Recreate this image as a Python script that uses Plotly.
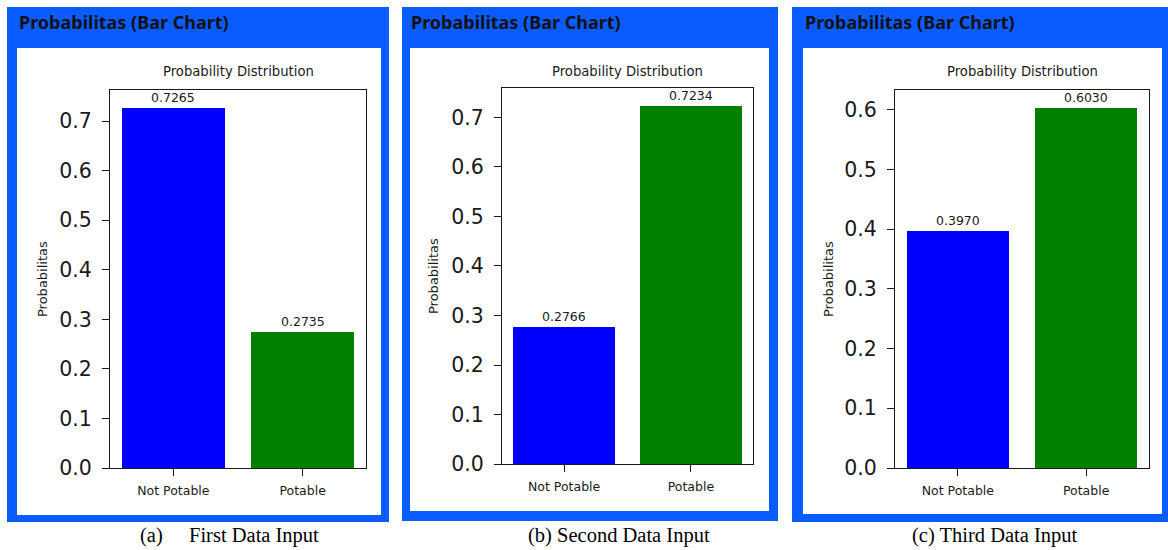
import plotly.graph_objects as go

W, H = 1168, 550
H_DRAW = 538  # vertical extent used for pixel -> paper conversion

# ---- data -------------------------------------------------------------
categories = ["Not Potable", "Potable"]
first_input = [0.7265, 0.2735]
second_input = [0.2766, 0.7234]
third_input = [0.3970, 0.6030]
bar_colors = ["#0000ff", "#008000"]

card_title = "Probabilitas (Bar Chart)"
chart_title = "Probability Distribution"
y_label = "Probabilitas"
caption_tags = ["(a)", "(b)", "(c)"]
caption_texts = ["First Data Input", "Second Data Input", "Third Data Input"]


def fx(x):
    return x / W


def fy(y):
    return 1 - y / H_DRAW


# card geometry in pixels: outer blue frame, inner white area, plot box
cards = [
    dict(outer=(7, 7, 389, 522), inner=(17, 48, 381, 515),
         plot=(110, 90, 366, 468), title_x=17, ylab_x=42),
    dict(outer=(402, 7, 778, 521), inner=(410, 48, 769, 511),
         plot=(502, 88, 753, 464), title_x=409, ylab_x=433),
    dict(outer=(792, 7, 1168, 522), inner=(803, 48, 1162, 514),
         plot=(895, 90, 1149, 468), title_x=803, ylab_x=828),
]
series = [first_input, second_input, third_input]

BLUE = "#0b5cff"
INK = "#1a1a1a"
FONT = "DejaVu Sans"

fig = go.Figure()
shapes = []
annotations = []

for i, (card, vals) in enumerate(zip(cards, series)):
    n = "" if i == 0 else str(i + 1)
    xa, ya = "x" + n, "y" + n

    ox0, oy0, ox1, oy1 = card["outer"]
    ix0, iy0, ix1, iy1 = card["inner"]
    shapes.append(dict(type="rect", xref="paper", yref="paper", layer="below",
                       x0=fx(ox0), x1=fx(ox1), y0=fy(oy1), y1=fy(oy0),
                       fillcolor=BLUE, line=dict(width=0)))
    shapes.append(dict(type="rect", xref="paper", yref="paper", layer="below",
                       x0=fx(ix0), x1=fx(ix1), y0=fy(iy1), y1=fy(iy0),
                       fillcolor="white", line=dict(width=0)))

    fig.add_trace(go.Bar(x=categories, y=vals, width=0.8,
                         marker=dict(color=bar_colors, line=dict(width=0)),
                         xaxis=xa, yaxis=ya, showlegend=False,
                         hoverinfo="x+y"))

    px0, py0, px1, py1 = card["plot"]
    ymax = max(vals) * 1.05
    fig.update_layout({
        ("xaxis" + n): dict(domain=[fx(px0), fx(px1)], anchor=ya,
                            type="category", range=[-0.49, 1.49],
                            showline=True, mirror=True, linecolor=INK,
                            linewidth=1.3, ticks="outside", ticklen=7,
                            tickwidth=1.3, tickcolor=INK, showgrid=False,
                            zeroline=False, ticklabelstandoff=4,
                            tickfont=dict(family=FONT, size=12.5, color=INK)),
        ("yaxis" + n): dict(domain=[fy(py1), fy(py0)], anchor=xa,
                            range=[0, ymax], dtick=0.1, tickformat=".1f",
                            showline=True, mirror=True, linecolor=INK,
                            linewidth=1.3, ticks="outside", ticklen=7,
                            tickwidth=1.3, tickcolor=INK, showgrid=False,
                            zeroline=False, ticklabelstandoff=6,
                            tickfont=dict(family=FONT, size=20.5, color=INK)),
    })

    # value labels above each bar
    for c, v in zip(categories, vals):
        annotations.append(dict(x=c, y=v, xref=xa, yref=ya, text=f"{v:.4f}",
                                showarrow=False, yanchor="middle", yshift=10.5,
                                font=dict(family=FONT, size=12.5, color=INK)))

    # card heading
    annotations.append(dict(x=fx(card["title_x"]), y=fy(22), xref="paper",
                            yref="paper", xanchor="left", yanchor="middle",
                            text=f"<b>{card_title}</b>", showarrow=False,
                            font=dict(family="Noto Sans", size=18, color="#111111")))
    # chart title
    annotations.append(dict(x=fx((px0 + px1) / 2), y=fy(71), xref="paper",
                            yref="paper", xanchor="center", yanchor="middle",
                            text=chart_title, showarrow=False,
                            font=dict(family=FONT, size=13.2, color=INK)))
    # y axis label
    annotations.append(dict(x=fx(card["ylab_x"]), y=fy((py0 + py1) / 2),
                            xref="paper", yref="paper", xanchor="center",
                            yanchor="middle", text=y_label, textangle=-90,
                            showarrow=False,
                            font=dict(family=FONT, size=13, color=INK)))

# captions under the cards
cap_font = dict(family="Liberation Serif", size=20.5, color="#000000")
annotations.append(dict(x=fx(138), y=fy(535), xref="paper", yref="paper",
                        xanchor="left", yanchor="middle", text=caption_tags[0],
                        showarrow=False, font=cap_font))
annotations.append(dict(x=fx(187), y=fy(535), xref="paper", yref="paper",
                        xanchor="left", yanchor="middle", text=caption_texts[0],
                        showarrow=False, font=cap_font))
for i, cx in ((1, 619), (2, 995)):
    annotations.append(dict(x=fx(cx), y=fy(535), xref="paper", yref="paper",
                            xanchor="center", yanchor="middle",
                            text=f"{caption_tags[i]} {caption_texts[i]}",
                            showarrow=False, font=cap_font))

fig.update_layout(width=W, height=H, autosize=False,
                  margin=dict(l=0, r=0, t=0, b=0, pad=0),
                  paper_bgcolor="white", plot_bgcolor="rgba(0,0,0,0)",
                  shapes=shapes, annotations=annotations, bargap=0)

fig.write_html("out.html", config={"responsive": False})
